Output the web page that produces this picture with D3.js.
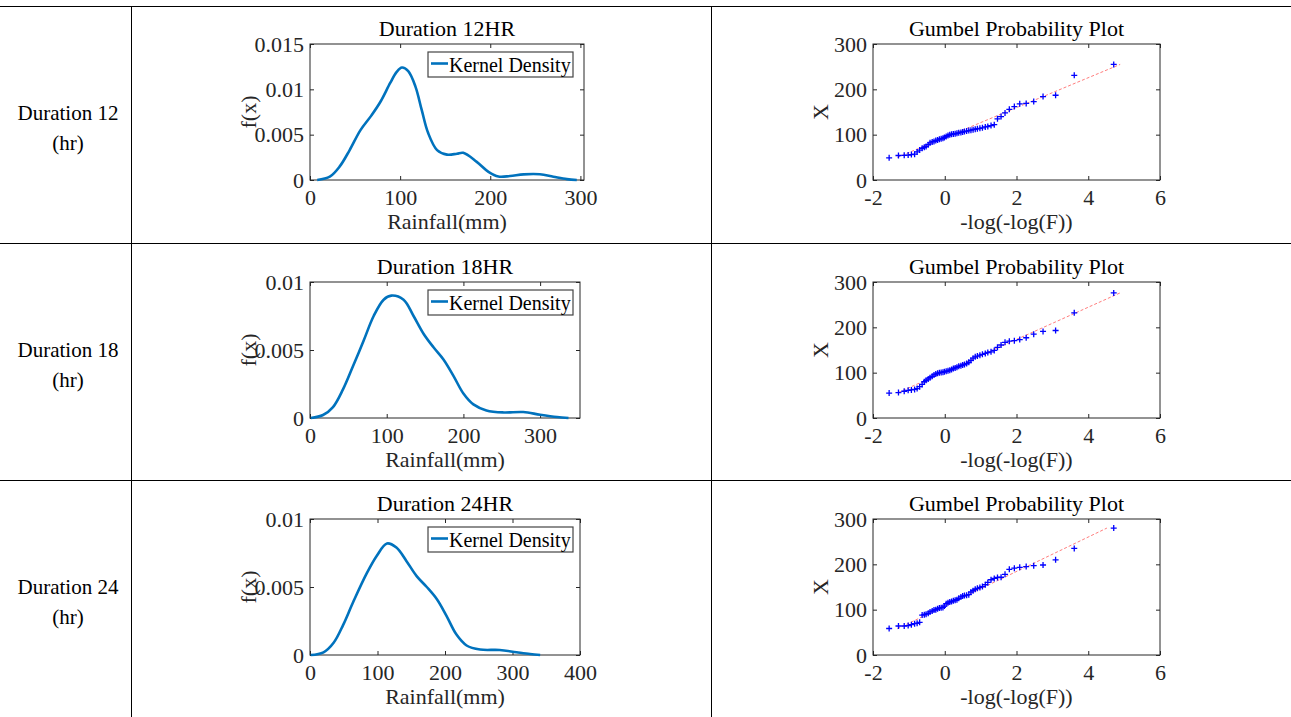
<!DOCTYPE html>
<html>
<head>
<meta charset="utf-8">
<script src="https://cdn.jsdelivr.net/npm/d3@7"></script>
<style>
  body { margin: 0; background: #fff; }
  svg { display: block; }
</style>
</head>
<body>
<div id="chart"></div>
<script>
// row labels and titles
const rowNames = ["Duration 12", "Duration 18", "Duration 24"];
const densityTitles = ["Duration 12HR", "Duration 18HR", "Duration 24HR"];

// kernel density curves, [rainfall mm, f(x)]
const dens12 = [[8,0],[22,0.00037],[33,0.0015],[44,0.0033],[56,0.0055],[68,0.0071],[78,0.0086],[89,0.0107],[96,0.0119],[102,0.0124],[109,0.012],[117,0.0103],[124,0.0077],[131,0.0052],[141,0.0033],[152,0.0028],[163,0.0029],[170,0.003],[185,0.002],[198,0.0009],[209,0.00038],[222,0.00044],[237,0.00062],[255,0.00063],[270,0.00036],[285,0.0001],[296,0]];
const dens18 = [[1,0],[17,0.00022],[30,0.0008],[43,0.0021],[56,0.0038],[70,0.0057],[83,0.0075],[96,0.0087],[106,0.009],[122,0.0087],[135,0.0075],[148,0.0062],[161,0.0052],[174,0.0043],[187,0.0031],[200,0.0018],[213,0.001],[230,0.00056],[252,0.00041],[278,0.00044],[300,0.00024],[322,0.00007],[337,0]];
const dens24 = [[1,0],[20,0.0002],[35,0.0009],[49,0.0022],[64,0.0039],[84,0.006],[99,0.0073],[114,0.0082],[128,0.0079],[143,0.0069],[158,0.0058],[173,0.005],[188,0.0041],[202,0.0029],[217,0.0015],[232,0.0007],[252,0.0004],[281,0.00037],[306,0.0002],[326,0.00007],[341,0]];

// reduced variate -log(-log(F)) of the 56 plotted points
const gumbelVariate = [-1.55,-1.29,-1.13,-1.02,-0.93,-0.84,-0.77,-0.70,-0.63,-0.57,-0.52,-0.46,-0.41,-0.35,-0.30,-0.25,-0.20,-0.15,-0.10,-0.05,-0.01,0.04,0.09,0.14,0.19,0.24,0.29,0.34,0.39,0.45,0.50,0.55,0.61,0.67,0.73,0.79,0.85,0.91,0.98,1.05,1.13,1.20,1.29,1.38,1.47,1.57,1.68,1.80,1.94,2.09,2.27,2.48,2.74,3.09,3.61,4.71];
// sorted rainfall (mm)
const gum12 = [49,54,54.5,55,56,57,62,66,70,72,74,78,82,84,85,87,88,90,91,92,94,96,98,100,101,101.5,102,103,104,105,106,107,108,109,110,111,112,113,114,115,117,118,120,122,135,140,148,156,162,168,169,173,184,187,231,255];
const gum18 = [55,56,59,61,62,63,65,69,74,80,83,86,89,92,95,97,98.5,100,100.5,101,102,103,104,105.5,107,109,110.5,112,114,115.5,117,118,120,123,127,132,135,136.5,138.5,140.5,142.5,144.5,146,149,156,161,167,169.5,170.5,173,177,185,191,193,232,276];
const gum24 = [58.5,64,64,65,67,69,70,72,88,89,90,92,95,97,99,100,102,103.5,104.5,105,108,113,115,117,118,119.5,120.5,122,125,128,130,131,132,133,139,142,145,147,149,151,155,160,166,169,171,171.5,178,189,191.5,193.5,195,197,198.5,210,235,280];
// fitted line ends [variate, rainfall]
const fit12 = [[-1.32,50],[4.89,255]];
const fit18 = [[-1.30,56],[4.89,276]];
const fit24 = [[-1.32,58],[4.52,280]];

// tick values
const densXTicks = [[0,100,200,300],[0,100,200,300],[0,100,200,300,400]];
const densYTicks = [[0,0.005,0.01,0.015],[0,0.005,0.01],[0,0.005,0.01]];
const densXMax = [304, 352, 400];
const densYMax = [0.015, 0.01, 0.01];
const gumXTicks = [-2,0,2,4,6];
const gumYTicks = [0,100,200,300];

const densities = [dens12, dens18, dens24];
const gumbels = [gum12, gum18, gum24];
const fits = [fit12, fit18, fit24];

const W = 1291, H = 717;
const font = "'Liberation Serif', 'Times New Roman', serif";
const ink = "#262626";

const svg = d3.select("#chart").append("svg")
    .attr("width", W).attr("height", H)
    .style("font-family", font);

// table grid
const rowH = 237;
const grid = svg.append("g").attr("stroke", "#000").attr("stroke-width", 1);
[6.5, 243.5, 480.5].forEach(y => grid.append("line").attr("x1", 0).attr("x2", W).attr("y1", y).attr("y2", y));
[131.5, 711.5].forEach(x => grid.append("line").attr("x1", x).attr("x2", x).attr("y1", 6).attr("y2", H));

function drawAxes(g, x, y, w, h, xTicks, yTicks) {
    const bottom = g.append("g").attr("transform", `translate(0,${h})`)
        .call(d3.axisBottom(x).tickValues(xTicks).tickSize(-4).tickPadding(9).tickFormat(String));
    const left = g.append("g")
        .call(d3.axisLeft(y).tickValues(yTicks).tickSize(-4).tickPadding(6).tickFormat(String));
    const top = g.append("g")
        .call(d3.axisTop(x).tickValues(xTicks).tickSize(-4).tickFormat(""));
    const right = g.append("g").attr("transform", `translate(${w},0)`)
        .call(d3.axisRight(y).tickValues(yTicks).tickSize(-4).tickFormat(""));
    [bottom, left, top, right].forEach(a => {
        a.attr("font-family", font).attr("font-size", 22);
        a.select(".domain").remove();
        a.selectAll("line").attr("stroke", ink);
        a.selectAll("text").attr("fill", ink);
    });
    g.append("rect").attr("width", w).attr("height", h)
        .attr("fill", "none").attr("stroke", ink).attr("stroke-width", 1);
}

for (let r = 0; r < 3; r++) {
    const top = 44 + rowH * r + (r > 0 ? 1 : 0);
    const h = 136;

    // row label
    const lab = svg.append("text").attr("text-anchor", "middle").attr("font-size", 21).attr("fill", "#000");
    lab.append("tspan").attr("x", 68).attr("y", 120 + rowH * r).text(rowNames[r]);
    lab.append("tspan").attr("x", 68).attr("y", 150 + rowH * r).text("(hr)");

    // density panel
    const dl = 310, dw = (r === 0 ? 584 : 580) - dl;
    const dg = svg.append("g").attr("transform", `translate(${dl},${top})`);
    const dx = d3.scaleLinear().domain([0, densXMax[r]]).range([0, dw]);
    const dy = d3.scaleLinear().domain([0, densYMax[r]]).range([h, 0]);
    drawAxes(dg, dx, dy, dw, h, densXTicks[r], densYTicks[r]);
    dg.append("path").datum(densities[r])
        .attr("fill", "none").attr("stroke", "#0072BD").attr("stroke-width", 2.6)
        .attr("stroke-linejoin", "round")
        .attr("d", d3.line().x(d => dx(d[0])).y(d => dy(d[1])).curve(d3.curveCatmullRom.alpha(0.5)));
    dg.append("text").attr("x", dw / 2).attr("y", -8).attr("text-anchor", "middle")
        .attr("font-size", 22).attr("fill", "#000").text(densityTitles[r]);
    dg.append("text").attr("x", dw / 2).attr("y", h + 49).attr("text-anchor", "middle")
        .attr("font-size", 22).attr("fill", ink).text("Rainfall(mm)");
    dg.append("text").attr("transform", `translate(${256 - dl},${h / 2}) rotate(-90)`)
        .attr("text-anchor", "middle").attr("font-size", 22).attr("fill", ink).text("f(x)");
    // legend
    const lg = dg.append("g").attr("transform", `translate(${428 - dl},8)`);
    lg.append("rect").attr("width", 145).attr("height", 25)
        .attr("fill", "#fff").attr("stroke", "#444").attr("stroke-width", 1.2);
    lg.append("line").attr("x1", 3).attr("x2", 20).attr("y1", 11.5).attr("y2", 11.5)
        .attr("stroke", "#0072BD").attr("stroke-width", 2.6);
    lg.append("text").attr("x", 21).attr("y", 19.5).attr("font-size", 20).attr("fill", "#000").text("Kernel Density");

    // gumbel panel
    const gl = 873, gw = 1160 - gl;
    const gg = svg.append("g").attr("transform", `translate(${gl},${top})`);
    const gx = d3.scaleLinear().domain([-2, 6]).range([0, gw]);
    const gy = d3.scaleLinear().domain([0, 300]).range([h, 0]);
    drawAxes(gg, gx, gy, gw, h, gumXTicks, gumYTicks);
    gg.append("path").datum(fits[r])
        .attr("fill", "none").attr("stroke", "#ff5a5a").attr("stroke-width", 0.8)
        .attr("stroke-dasharray", "3,2")
        .attr("d", d3.line().x(d => gx(d[0])).y(d => gy(d[1])));
    gg.selectAll(".pt").data(gumbels[r]).join("path")
        .attr("class", "pt")
        .attr("transform", (d, i) => `translate(${gx(gumbelVariate[i])},${gy(d)})`)
        .attr("d", "M-3,0H3M0,-3V3")
        .attr("stroke", "#0000ff").attr("stroke-width", 1.3);
    gg.append("text").attr("x", gw / 2).attr("y", -8).attr("text-anchor", "middle")
        .attr("font-size", 22).attr("fill", "#000").text("Gumbel Probability Plot");
    gg.append("text").attr("x", gw / 2).attr("y", h + 49).attr("text-anchor", "middle")
        .attr("font-size", 22).attr("fill", ink).text("-log(-log(F))");
    gg.append("text").attr("transform", `translate(${828 - gl},${h / 2}) rotate(-90)`)
        .attr("text-anchor", "middle").attr("font-size", 22).attr("fill", ink).text("X");
}
</script>
</body>
</html>
